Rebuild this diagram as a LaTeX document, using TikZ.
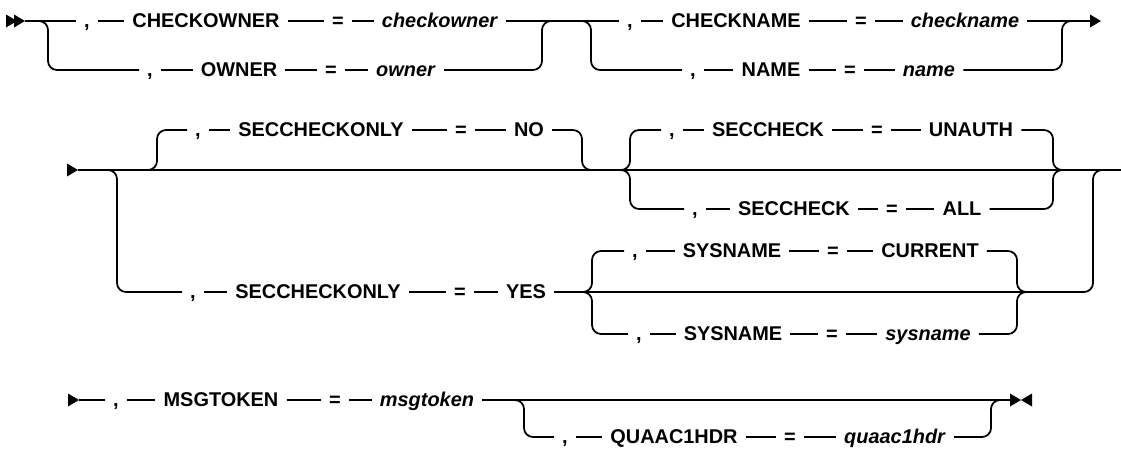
\documentclass[tikz,border=0pt]{standalone}
\usepackage{fontspec}
\setmainfont{Liberation Sans}
\usetikzlibrary{positioning}

% one option of the syntax: , -- KEYWORD -- = -- value
\newcommand{\railopt}[8]{%
  \node[tok] (#1c) at (#3,#2) {,};
  \node[tok] (#1k) at (#4,#2) {#5};
  \node[tok] (#1e) at (#6,#2) {=};
  \node[tok] (#1v) at (#7,#2) {#8};
  \draw[rail] (#1c) -- (#1k) -- (#1e) -- (#1v);}
% filled tips of the rails
\newcommand{\tipright}[2]{\fill (#1,#2-6.5) -- (#1+11,#2) -- (#1,#2+6.5) -- cycle;}
\newcommand{\tipleft}[2]{\fill (#1+11,#2-6.5) -- (#1,#2) -- (#1+11,#2+6.5) -- cycle;}

\begin{document}
\begin{tikzpicture}[
        x=0.03cm, y=-0.03cm,
        rail/.style={line width=1.5pt},
        turn/.style={rail, rounded corners=0.27cm},
        tok/.style={inner xsep=0.24cm, inner ysep=0pt, text height=0.36cm,
                    text depth=0pt, font=\fontsize{17pt}{20pt}\selectfont\bfseries}
    ]
        \useasboundingbox (0,0) rectangle (1121,449);

        % row 1
        \tipright{6}{21}
        \tipright{14}{21}
        \coordinate (s1) at (25,21);
        \coordinate (t1) at (1090,21);
        \railopt{a}{21}{87}{206}{CHECKOWNER}{338}{440}{\textit{checkowner}}
        \railopt{b}{70}{150}{239}{OWNER}{331}{406}{\textit{owner}}
        \railopt{c}{21}{630}{736}{CHECKNAME}{861}{965}{\textit{checkname}}
        \railopt{d}{70}{693}{771}{NAME}{850}{929}{\textit{name}}
        \draw[rail] (s1) -- (ac);
        \draw[turn] (s1) -| (48,70) -- (bc);
        \draw[rail] (av) -- (cc);
        \draw[turn] (bv) -| (542,21) -- (552,21);
        \draw[turn] (580,21) -| (591,70) -- (dc);
        \draw[rail] (cv) -- (t1);
        \draw[turn] (dv) -| (1062,21) -- (1072,21);
        \tipright{1090}{21}

        % row 2
        \tipright{67}{170}
        \coordinate (s2) at (78,170);
        \coordinate (t2) at (1121,170);
        \draw[rail] (s2) -- (t2);
        \railopt{e}{130}{198}{321}{SECCHECKONLY}{461}{529}{NO}
        \railopt{f}{130}{672}{768}{SECCHECK}{877}{971}{UNAUTH}
        \railopt{g}{209}{695}{794}{SECCHECK}{892}{962}{ALL}
        \railopt{h}{292}{193}{318}{SECCHECKONLY}{460}{526}{YES}
        \railopt{i}{251}{635}{732}{SYSNAME}{833}{930}{CURRENT}
        \railopt{j}{334}{639}{733}{SYSNAME}{832}{928}{\textit{sysname}}
        \draw[turn] (145,170) -| (157,130) -- (ec);
        \draw[turn] (ev) -| (582,170) -- (592,170);
        \draw[turn] (620,170) -| (630,130) -- (fc);
        \draw[turn] (620,170) -| (630,209) -- (gc);
        \draw[turn] (fv) -| (1053,170) -- (1063,170);
        \draw[turn] (gv) -| (1053,170) -- (1063,170);
        \draw[turn] (105,170) -| (117,292) -- (hc);
        \draw[turn] (hv) -| (1093,170) -- (1103,170);
        \draw[turn] (582,292) -| (592,251) -- (ic);
        \draw[turn] (582,292) -| (592,334) -- (jc);
        \draw[turn] (iv) -| (1017,292) -- (1027,292);
        \draw[turn] (jv) -| (1017,292) -- (1027,292);

        % row 3
        \tipright{68}{400}
        \coordinate (s3) at (79,400);
        \coordinate (t3) at (1010,400);
        \railopt{m}{400}{116}{221}{MSGTOKEN}{335}{427}{\textit{msgtoken}}
        \railopt{q}{437}{565}{674}{QUAAC1HDR}{790}{895}{\textit{quaac1hdr}}
        \draw[rail] (s3) -- (mc);
        \draw[rail] (mv) -- (t3);
        \draw[turn] (514,400) -| (524,437) -- (qc);
        \draw[turn] (qv) -| (991,400) -- (1001,400);
        \tipright{1010}{400}
        \tipleft{1021}{400}
    \end{tikzpicture}
\end{document}
